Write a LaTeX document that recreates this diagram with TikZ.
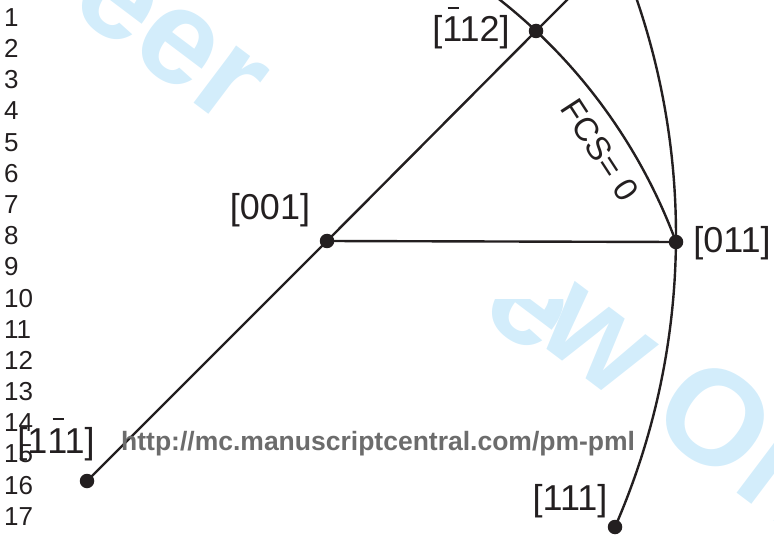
\documentclass[tikz,border=0pt]{standalone}
\usepackage{fontspec}
\setmainfont{Liberation Sans}
\definecolor{wmblue}{RGB}{211,237,251}
\definecolor{urlgray}{RGB}{108,108,108}
\definecolor{ink}{RGB}{35,31,32}
\newcommand{\ob}[1]{\leavevmode\rlap{\hspace{0.15em}\rule[0.93em]{0.3em}{0.055em}}#1}
\begin{document}
\begin{tikzpicture}[x=1bp,y=-1bp,
  line/.style={line width=2.4bp, draw=ink},
  dot/.style={circle, fill=ink, inner sep=0pt, minimum size=14.5bp},
  lbl/.style={font=\fontsize{36bp}{40bp}\selectfont, inner sep=0pt, anchor=base, text=ink},
  lnum/.style={font=\fontsize{26bp}{30bp}\selectfont, inner sep=0pt, anchor=base west, text=ink},
  wmark/.style={font=\fontsize{135bp}{140bp}\selectfont\bfseries, text=wmblue, inner sep=0pt, anchor=base west, rotate=-37},
  url/.style={font=\fontsize{26.5bp}{30bp}\selectfont\bfseries, text=urlgray, inner sep=0pt, anchor=base west}
]
\useasboundingbox (0,0) rectangle (774,535);
\clip (0,0) rectangle (774,535);
% watermark
\node[wmark] (wm1) at (66,7) {eer};
\begin{scope}
  \clip (440,299) rectangle (600,420);
  \node[wmark] (wm2) at (476,313) {e};
\end{scope}
\node[wmark] (wm3) at (532,338) {w Only};
% line numbers
\foreach \n in {1,...,17} \node[lnum] (ln\n) at (4,{26.3+(\n-1)*31.19}) {\n};
% points
\node[dot] (d11b1) at (87,481) {};
\node[dot] (d001) at (327,241) {};
\node[dot] (d1b12) at (536,31) {};
\node[dot] (d011) at (676,242) {};
\node[dot] (d111) at (615,527) {};
\coordinate (ltop) at (572,-5);
% connectors
\draw[line] (d11b1.center) -- (d001.center) -- (d1b12.center) -- (ltop);
\draw[line] (d001.center) -- (d011.center);
\draw[line] (d111.center) arc[start angle=23.62, end angle=-19.5, radius=728.1];
\draw[line] (d011.center) arc[start angle=-20.32, end angle=-53, radius=552.8];
% labels
\node[lbl] (l001) at (270,220) {[001]};
\node[lbl] (l011) at (732,253) {[011]};
\node[lbl] (l1b12) at (471,42) {[\ob{1}12]};
\node[lbl] (l11b1) at (56,453) {[1\ob{1}1]};
\node[lbl] (l111) at (570,510) {[111]};
\node[lbl, anchor=center, rotate=-57, font=\fontsize{33bp}{36bp}\selectfont] (lfcs) at (600,150) {FCS= 0};
\node[url] (url) at (121,450) {http://mc.manuscriptcentral.com/pm-pml};
\end{tikzpicture}
\end{document}
